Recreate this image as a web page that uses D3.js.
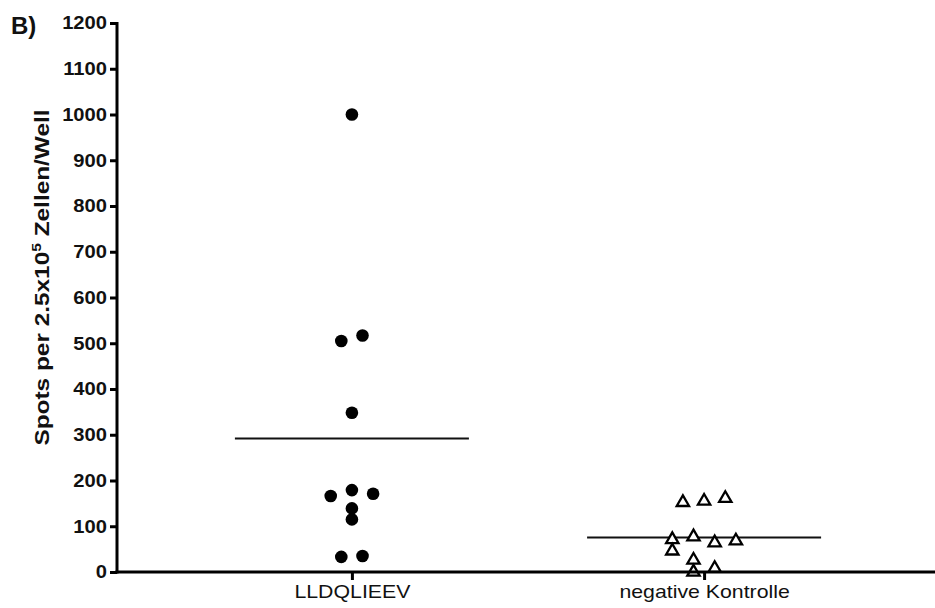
<!DOCTYPE html>
<html>
<head>
<meta charset="utf-8">
<script src="https://cdn.jsdelivr.net/npm/d3@7"></script>
<style>
  html, body { margin: 0; padding: 0; background: #fff; }
  svg { display: block; }
  text { font-family: "Liberation Sans", Arial, sans-serif; fill: #111; }
</style>
</head>
<body>
<svg id="chart" width="935" height="608"></svg>
<script>
// Groups on the x axis
const categories = ["LLDQLIEEV", "negative Kontrolle"];

// Spots per well, one value per donor
const peptideValues = [1000, 517, 505, 348, 179, 166, 171, 139, 115, 33, 35];
const controlValues = [152, 155, 161, 71, 77, 64, 68, 46, 26, 8, 0];

// Column slot of each point inside its group's scatter (left < 0 < right)
const peptideSlots = [0, 1, -1, 0, 0, -2, 2, 0, 0, -1, 1];
const controlSlots = [-2, 0, 2, -3, -1, 1, 3, -3, -1, 1, -1];

const yTicks = [0, 100, 200, 300, 400, 500, 600, 700, 800, 900, 1000, 1100, 1200];

const W = 935, H = 608;
const svg = d3.select("#chart");

// Widen a text element horizontally by a factor, keeping its anchor
function widen(sel, factor) {
  sel.each(function () {
    const len = this.getComputedTextLength();
    d3.select(this).attr("textLength", len * factor).attr("lengthAdjust", "spacingAndGlyphs");
  });
}

const x = d3.scalePoint().domain(categories).range([117, 939]).padding(0.667);
const y = d3.scaleLinear().domain([0, 1200]).range([572, 23]);
const slot = d3.scaleLinear().domain([-1, 1]).range([-10.6, 10.6]);

const groups = [
  { cat: categories[0], values: peptideValues, slots: peptideSlots, shape: "circle" },
  { cat: categories[1], values: controlValues, slots: controlSlots, shape: "triangle" }
];

// Mean lines
groups.forEach(g => {
  const m = d3.mean(g.values);
  svg.append("line")
    .attr("x1", x(g.cat) - 117).attr("x2", x(g.cat) + 117)
    .attr("y1", y(m)).attr("y2", y(m))
    .attr("stroke", "#111").attr("stroke-width", 2);
});

// Points
const tri = d3.symbol().type(d3.symbolTriangle).size(66);
groups.forEach(g => {
  const pts = g.values.map((v, i) => ({ v, s: g.slots[i] }));
  if (g.shape === "circle") {
    svg.append("g").selectAll("circle").data(pts).join("circle")
      .attr("cx", d => x(g.cat) + slot(d.s))
      .attr("cy", d => y(d.v))
      .attr("r", 6.3)
      .attr("fill", "#000");
  } else {
    svg.append("g").selectAll("path").data(pts).join("path")
      .attr("d", tri)
      .attr("transform", d => `translate(${x(g.cat) + slot(d.s)},${y(d.v)})`)
      .attr("fill", "#fff")
      .attr("stroke", "#000")
      .attr("stroke-width", 2.3);
  }
});

// Y axis
const yAxis = svg.append("g")
  .attr("transform", "translate(117,0)")
  .call(d3.axisLeft(y).tickValues(yTicks).tickFormat(d3.format("d")).tickSize(7).tickPadding(3));
yAxis.select(".domain").attr("stroke", "#000").attr("stroke-width", 3).attr("d", `M0,${y(1200) - 1}V${y(0) + 1.5}`);
yAxis.selectAll(".tick line").attr("stroke", "#000").attr("stroke-width", 3);
yAxis.selectAll(".tick text")
  .style("font-size", "18px").style("font-weight", "bold").attr("fill", "#222")
  .call(widen, 1.12);

// X axis
const xAxis = svg.append("g")
  .attr("transform", `translate(0,${y(0)})`)
  .call(d3.axisBottom(x).tickSize(8).tickPadding(5));
xAxis.select(".domain").attr("stroke", "#000").attr("stroke-width", 3).attr("d", `M115.5,0H${W}`);
xAxis.selectAll(".tick line").attr("stroke", "#000").attr("stroke-width", 3);
xAxis.selectAll(".tick text")
  .style("font-size", "19px").attr("fill", "#222")
  .call(widen, 1.12);

// Y axis title
const title = svg.append("text")
  .attr("transform", `translate(49,277.5) rotate(-90)`)
  .attr("text-anchor", "middle")
  .style("font-size", "19.5px").style("font-weight", "bold").attr("fill", "#222");
title.append("tspan").text("Spots per 2.5x10");
title.append("tspan").attr("dy", -8).style("font-size", "12.5px").text("5");
title.append("tspan").attr("dy", 8).text(" Zellen/Well");
widen(title, 1.25);

// Panel letter
svg.append("text")
  .attr("x", 11).attr("y", 34)
  .style("font-size", "24px").style("font-weight", "bold")
  .text("B)");
</script>
</body>
</html>
